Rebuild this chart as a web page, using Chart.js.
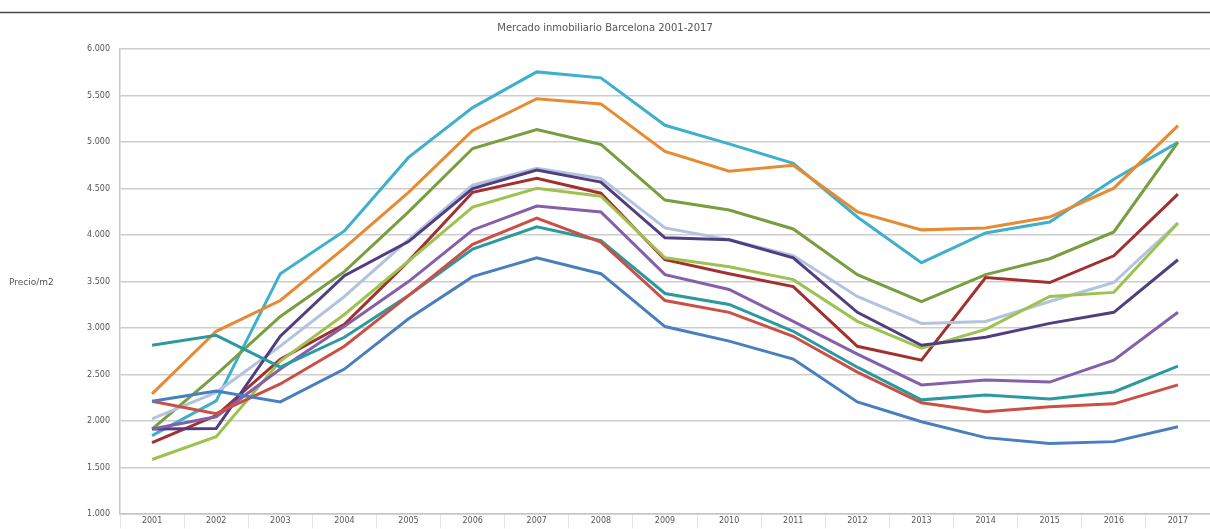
<!DOCTYPE html>
<html>
<head>
<meta charset="utf-8">
<script src="https://cdn.jsdelivr.net/npm/chart.js@4"></script>
<style>
  html, body { margin: 0; padding: 0; background: #fff; overflow: hidden; }
  #wrap { width: 1210px; height: 529px; }
</style>
</head>
<body>
<div id="wrap"><canvas id="lineChart"></canvas></div>
<script>
// Datos (euros/m2)
const years = ['2001', '2002', '2003', '2004', '2005', '2006', '2007', '2008', '2009',
               '2010', '2011', '2012', '2013', '2014', '2015', '2016', '2017'];

const serieAzul      = [2215, 2325, 2207, 2560, 3100, 3553, 3756, 3585, 3017, 2860, 2667, 2207, 1994, 1823, 1759, 1780, 1940];
const serieRoja      = [2215, 2080, 2400, 2806, 3350, 3900, 4183, 3925, 3297, 3169, 2912, 2527, 2197, 2100, 2154, 2186, 2390];
const serieTurquesa  = [2816, 2923, 2580, 2902, 3350, 3850, 4088, 3940, 3372, 3254, 2966, 2580, 2229, 2282, 2239, 2314, 2592];
const serieMorada    = [1915, 2047, 2560, 3020, 3500, 4055, 4312, 4248, 3575, 3415, 3073, 2720, 2390, 2442, 2420, 2656, 3170];
const serieAzulOsc   = [1915, 1920, 2914, 3564, 3930, 4500, 4700, 4570, 3970, 3950, 3756, 3170, 2816, 2902, 3051, 3170, 3735];
const serieVerdeCl   = [1588, 1833, 2645, 3147, 3720, 4300, 4504, 4418, 3756, 3660, 3521, 3073, 2784, 2987, 3340, 3384, 4130];
const serieLavanda   = [2025, 2310, 2806, 3340, 3950, 4536, 4718, 4610, 4077, 3950, 3780, 3340, 3051, 3072, 3286, 3490, 4130];
const serieGranate   = [1770, 2060, 2666, 3040, 3720, 4460, 4611, 4450, 3735, 3585, 3447, 2805, 2656, 3543, 3490, 3777, 4440];
const serieOliva     = [1915, 2500, 3126, 3607, 4250, 4930, 5135, 4974, 4376, 4270, 4066, 3575, 3286, 3575, 3746, 4034, 4996];
const serieNaranja   = [2293, 2966, 3297, 3863, 4460, 5124, 5466, 5410, 4900, 4686, 4750, 4250, 4056, 4077, 4194, 4504, 5177];
const serieCian      = [1844, 2218, 3585, 4045, 4835, 5370, 5754, 5690, 5180, 4980, 4770, 4195, 3703, 4023, 4140, 4600, 4996];

const yTicks = [1000, 1500, 2000, 2500, 3000, 3500, 4000, 4500, 5000, 5500, 6000];

function serie(label, data, color) {
    return {
        label: label,
        data: data,
        borderColor: color,
        backgroundColor: color,
        borderWidth: 3,
        pointRadius: 0,
        tension: 0,
        fill: false
    };
}

// linea superior y rotulo horizontal del eje Y
const extras = {
    id: 'extras',
    afterDraw(chart) {
        const c = chart.ctx;
        c.save();
        c.strokeStyle = '#4a4a4a';
        c.lineWidth = 1.5;
        c.beginPath();
        c.moveTo(0, 12.5);
        c.lineTo(chart.width, 12.5);
        c.stroke();
        c.fillStyle = '#555';
        c.font = '9px "DejaVu Sans"';
        c.textAlign = 'left';
        c.textBaseline = 'middle';
        c.fillText('Precio/m2', 9, 283);
        c.restore();
    }
};

const ctx = document.getElementById('lineChart').getContext('2d');

new Chart(ctx, {
    type: 'line',
    data: {
        labels: years,
        datasets: [
            serie('Serie 1', serieAzul, '#4a7fbf'),
            serie('Serie 2', serieRoja, '#cc4f46'),
            serie('Serie 3', serieTurquesa, '#2b9a9f'),
            serie('Serie 4', serieMorada, '#8460aa'),
            serie('Serie 5', serieAzulOsc, '#4f3f80'),
            serie('Serie 6', serieVerdeCl, '#9dc250'),
            serie('Serie 7', serieLavanda, '#b3c3df'),
            serie('Serie 8', serieGranate, '#a3302f'),
            serie('Serie 9', serieOliva, '#789e3f'),
            serie('Serie 10', serieNaranja, '#e88a31'),
            serie('Serie 11', serieCian, '#3fb0cc')
        ]
    },
    options: {
        responsive: true,
        maintainAspectRatio: false,
        animation: false,
        layout: { padding: { top: 0, right: 0, bottom: -3, left: 0 } },
        plugins: {
            legend: { display: false },
            tooltip: { enabled: false },
            title: {
                display: true,
                text: 'Mercado inmobiliario Barcelona 2001-2017',
                color: '#555',
                font: { family: 'DejaVu Sans', size: 10, weight: 'normal', lineHeight: 1.2 },
                padding: { top: 22, bottom: 15 }
            }
        },
        scales: {
            x: {
                offset: true,
                grid: {
                    offset: true,
                    drawOnChartArea: false,
                    drawTicks: true,
                    tickLength: 14,
                    color: '#e4e4e4'
                },
                border: { color: '#c6c6c6', width: 1.5 },
                ticks: {
                    color: '#555',
                    font: { family: 'DejaVu Sans', size: 8 },
                    padding: -12,
                    maxRotation: 0,
                    autoSkip: false
                },
                afterFit(scale) { scale.height = 13; }
            },
            y: {
                min: 1000,
                max: 6000,
                afterBuildTicks(scale) {
                    scale.ticks = yTicks.map(v => ({ value: v }));
                },
                grid: {
                    color: '#cdcdcd',
                    lineWidth: 1.5,
                    drawTicks: false
                },
                border: { color: '#c6c6c6', width: 1.5 },
                ticks: {
                    color: '#555',
                    font: { family: 'DejaVu Sans', size: 8 },
                    padding: 10,
                    callback: v => (v / 1000).toFixed(3)
                },
                afterFit(scale) { scale.width = 120; }
            }
        }
    },
    plugins: [extras]
});
</script>
</body>
</html>
